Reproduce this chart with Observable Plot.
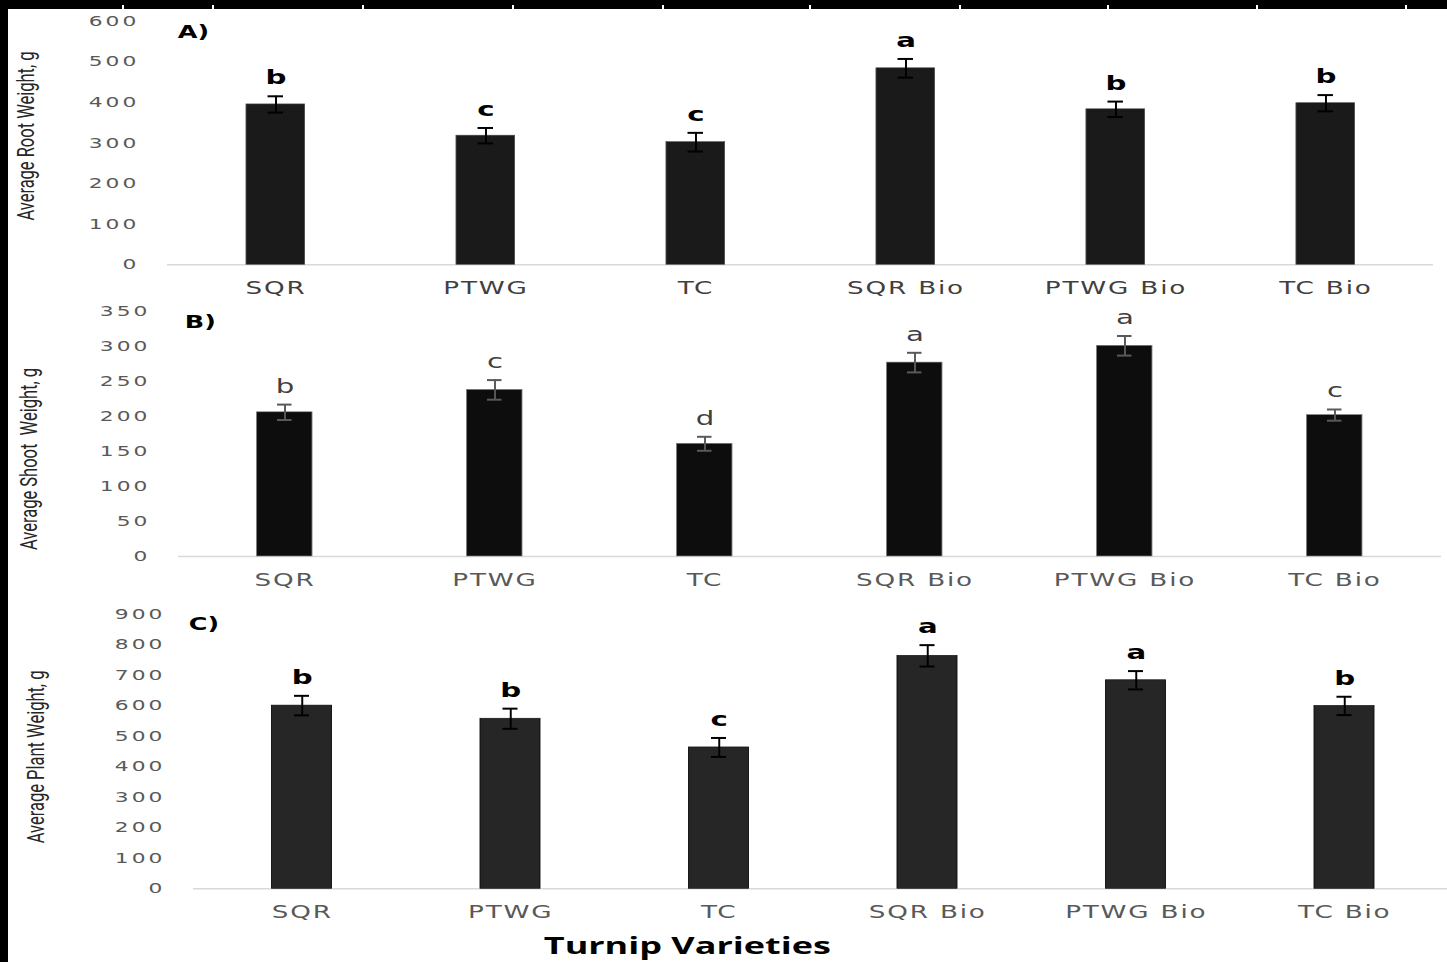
<!DOCTYPE html>
<html>
<head>
<meta charset="utf-8">
<script src="https://cdn.jsdelivr.net/npm/d3@7"></script>
<script src="https://cdn.jsdelivr.net/npm/@observablehq/plot@0.6"></script>
<style>
  html, body { margin: 0; padding: 0; background: #fff; }
  #page { position: relative; width: 1447px; height: 962px; overflow: hidden; background: #fff; }
  #stretch { position: absolute; left: 0; top: 9px; transform: scaleX(1.5); transform-origin: 0 0; }
  #stretch svg { display: block; overflow: visible; }
  .band-top { position: absolute; left: 0; top: 0; width: 1447px; height: 9px; background: #000; }
  .band-left { position: absolute; left: 0; top: 0; width: 8px; height: 962px; background: #000; }
  .edge-tick { position: absolute; top: 5px; width: 2px; height: 4px; background: #fff; }
  g[aria-label="y-axis tick label"] text { letter-spacing: 2px; }
  g[aria-label="x-axis tick label"] text { letter-spacing: 1.2px; }
</style>
</head>
<body>
<div id="page">
  <div id="stretch"></div>
  <div class="band-top"></div>
  <div class="band-left"></div>
</div>
<script>
// ---- data ----
const categories = ["SQR", "PTWG", "TC", "SQR Bio", "PTWG Bio", "TC Bio"];

const rootWeight = [395, 318, 302, 484, 383, 398];
const rootError  = [20, 19, 23, 23, 19, 20];
const rootLetters = ["b", "c", "c", "a", "b", "b"];
const rootTicks = [0, 100, 200, 300, 400, 500, 600];

const shootWeight = [206, 238, 161, 277, 301, 202];
const shootError  = [11, 14, 10, 14, 14, 8];
const shootLetters = ["b", "c", "d", "a", "a", "c"];
const shootTicks = [0, 50, 100, 150, 200, 250, 300, 350];

const plantWeight = [600, 557, 463, 763, 683, 599];
const plantError  = [32, 33, 31, 35, 30, 30];
const plantLetters = ["b", "b", "c", "a", "a", "b"];
const plantTicks = [0, 100, 200, 300, 400, 500, 600, 700, 800, 900];

const panelLabels = ["A)", "B)", "C)"];
const yTitles = ["Average Root Weight, g", "Average Shoot  Weight, g", "Average Plant Weight, g"];
const xTitle = "Turnip Varieties";

// decorative edge ticks of the scanned frame (page pixels)
const edgeTicks = [123, 213, 363, 513, 663, 810, 960, 1108, 1257, 1406];

// ---- drawing ----
function panel(cfg) {
  const data = categories.map((c, i) => ({
    cat: c, v: cfg.values[i],
    lo: cfg.values[i] - cfg.errors[i], hi: cfg.values[i] + cfg.errors[i],
    letter: cfg.letters[i]
  }));
  const bw = (cfg.width - cfg.ml - cfg.mr) / categories.length * (1 - cfg.pad);
  const inset = (bw - 10) / 2;
  const marks = [
    Plot.ruleY([0], {stroke: "#d9d9d9", strokeWidth: 1.5}),
    Plot.barY(data, {x: "cat", y: "v", fill: cfg.fill, stroke: cfg.barStroke, strokeWidth: 0.6}),
    Plot.ruleX(data, {x: "cat", y1: "lo", y2: "hi", stroke: cfg.errColor, strokeWidth: 1.3}),
    Plot.tickY(data, {x: "cat", y: "lo", stroke: cfg.errColor, strokeWidth: 2, insetLeft: inset, insetRight: inset}),
    Plot.tickY(data, {x: "cat", y: "hi", stroke: cfg.errColor, strokeWidth: 2, insetLeft: inset, insetRight: inset}),
    Plot.text(data, {x: "cat", y: "hi", text: "letter", lineAnchor: "bottom", dy: -12,
      fontSize: 19.5, fontWeight: cfg.letterWeight, fill: cfg.letterColor}),
    Plot.axisY({ticks: cfg.ticks, tickSize: 0, tickPadding: 19, fontSize: 14.5, color: "#595959", label: null}),
    Plot.axisX({tickSize: 0, tickPadding: 17, fontSize: 17.5, color: cfg.xColor, label: null}),
    Plot.text([cfg.panelLabel], {frameAnchor: "top-left", textAnchor: "start", lineAnchor: "middle",
      dx: cfg.plx, dy: cfg.ply, fontSize: 17, fontWeight: "bold", fill: "#000"}),
    Plot.text([cfg.title], {frameAnchor: "left", rotate: -90, textAnchor: "middle", lineAnchor: "middle",
      dx: cfg.tdx, dy: cfg.tdy, fontSize: 16.5, fontFamily: "Roboto", fontWeight: 400, fill: "#262626",
      ariaLabel: "ytitle"})
  ];
  if (cfg.extra) marks.push(cfg.extra);
  const svg = Plot.plot({
    width: cfg.width, height: cfg.height,
    marginLeft: cfg.ml, marginRight: cfg.mr, marginTop: cfg.mt, marginBottom: cfg.mb,
    style: {fontFamily: "DejaVu Sans", background: "transparent", overflow: "visible"},
    x: {domain: categories, paddingInner: cfg.pad, paddingOuter: cfg.pad / 2, label: null},
    y: {domain: cfg.domain, label: null},
    marks
  });
  d3.select(svg).selectAll('g[aria-label="ytitle"] text').each(function () {
    const t = this.getAttribute("transform");
    if (t) this.setAttribute("transform", t + " scale(1,1.35)");
  });
  return svg;
}

const W = 1447 / 1.5;
const host = document.getElementById("stretch");

host.appendChild(panel({
  values: rootWeight, errors: rootError, letters: rootLetters, ticks: rootTicks, domain: [0, 600],
  width: W, height: 291, ml: 111.3, mr: 9.4, mt: 11.7, mb: 35.7, pad: 0.725,
  fill: "#1a1a1a", barStroke: "#4d4d4d", errColor: "#000", letterColor: "#000", letterWeight: "bold",
  xColor: "#404040", panelLabel: panelLabels[0], plx: 6.7, ply: 11.8,
  title: yTitles[0], tdx: -94.6, tdy: -7
}));

host.appendChild(panel({
  values: shootWeight, errors: shootError, letters: shootLetters, ticks: shootTicks, domain: [0, 350],
  width: W, height: 300, ml: 118.7, mr: 4, mt: 11, mb: 44, pad: 0.734,
  fill: "#0d0d0d", barStroke: "#808080", errColor: "#595959", letterColor: "#404040", letterWeight: "normal",
  xColor: "#595959", panelLabel: panelLabels[1], plx: 4, ply: 11,
  title: yTitles[1], tdx: -99.7, tdy: 25
}));

host.appendChild(panel({
  values: plantWeight, errors: plantError, letters: plantLetters, ticks: plantTicks, domain: [0, 900],
  width: 968, height: 362, ml: 128.7, mr: 0.9, mt: 13.5, mb: 73.7, pad: 0.714,
  fill: "#262626", barStroke: "#0d0d0d", errColor: "#000", letterColor: "#000", letterWeight: "bold",
  xColor: "#595959", panelLabel: panelLabels[2], plx: -3.4, ply: 10.5,
  title: yTitles[2], tdx: -104.9, tdy: 5.5,
  extra: Plot.text([xTitle], {frameAnchor: "bottom-left", textAnchor: "middle", lineAnchor: "middle",
    dx: 329, dy: 57.7, fontSize: 24, fontFamily: "Open Sans", fontWeight: "bold", fill: "#000"})
}));

const page = document.getElementById("page");
edgeTicks.forEach(x => {
  const d = document.createElement("div");
  d.className = "edge-tick";
  d.style.left = (x - 1) + "px";
  page.appendChild(d);
});
</script>
</body>
</html>
